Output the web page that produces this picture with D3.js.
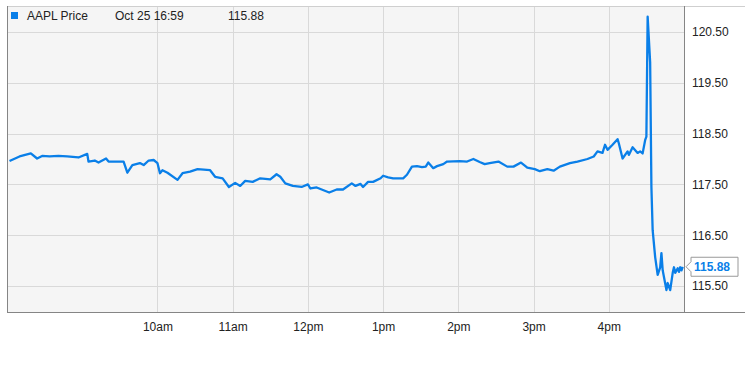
<!DOCTYPE html>
<html>
<head>
<meta charset="utf-8">
<script src="https://cdn.jsdelivr.net/npm/d3@7"></script>
<style>
  body { margin: 0; background: #fff; }
  svg { font-family: "Liberation Sans", Arial, Helvetica, sans-serif; }
</style>
</head>
<body>
<div id="chart"></div>
<script>
const symbol = "AAPL Price";
const lastLabel = "Oct 25 16:59";
const lastPrice = 115.88;

const times = [
  "08:02","08:10","08:19","08:24","08:28","08:34","08:41","08:48","08:57","09:04",
  "09:05","09:10","09:13","09:19","09:21","09:33","09:36","09:40","09:46","09:49",
  "09:53","09:57","10:00","10:02","10:04","10:08","10:16","10:20","10:26","10:32",
  "10:42","10:46","10:52","10:57","11:02","11:06","11:10","11:16","11:22","11:30",
  "11:35","11:38","11:42","11:48","11:55","12:00","12:02","12:07","12:12","12:17",
  "12:23","12:28","12:35","12:38","12:42","12:44","12:48","12:52","12:58","13:00",
  "13:04","13:08","13:16","13:19","13:23","13:27","13:31","13:34","13:36","13:40",
  "13:43","13:48","13:51","14:01","14:07","14:12","14:17","14:21","14:25","14:32",
  "14:39","14:44","14:50","14:55","15:01","15:05","15:11","15:16","15:21","15:29",
  "15:35","15:43","15:48","15:51","15:55","15:57","15:59","16:03","16:07","16:08",
  "16:11","16:15","16:16","16:19","16:23","16:25","16:27","16:29","16:30","16:31",
  "16:33","16:34","16:35","16:37","16:39","16:41","16:42","16:43","16:46","16:47",
  "16:49","16:51","16:52","16:53","16:55","16:56","16:57","16:58","16:59"
];
const prices = [
  117.96,118.05,118.11,118.01,118.06,118.05,118.06,118.05,118.03,118.10,
  117.95,117.97,117.93,118.01,117.95,117.95,117.73,117.88,117.92,117.88,
  117.97,117.98,117.92,117.72,117.78,117.73,117.59,117.72,117.75,117.80,
  117.78,117.65,117.62,117.45,117.53,117.47,117.57,117.55,117.62,117.60,
  117.70,117.65,117.52,117.47,117.45,117.50,117.42,117.44,117.39,117.34,
  117.40,117.40,117.52,117.47,117.51,117.45,117.55,117.55,117.62,117.67,
  117.64,117.62,117.62,117.69,117.85,117.86,117.84,117.85,117.93,117.82,
  117.86,117.90,117.95,117.96,117.95,118.00,117.94,117.90,117.92,117.95,
  117.85,117.85,117.93,117.83,117.80,117.76,117.80,117.77,117.85,117.92,
  117.95,118.00,118.05,118.15,118.12,118.28,118.18,118.28,118.39,118.31,
  118.01,118.15,118.08,118.23,118.12,118.15,118.11,118.37,118.44,120.80,
  119.90,117.45,116.60,116.07,115.72,115.87,116.15,115.81,115.42,115.56,
  115.42,115.76,115.87,115.76,115.85,115.78,115.87,115.81,115.88
];
const hourTicks = ["10:00","11:00","12:00","13:00","14:00","15:00","16:00"];
const priceTicks = [115.5, 116.5, 117.5, 118.5, 119.5, 120.5];

const parse = d3.timeParse("%H:%M");
const data = times.map((t, i) => ({ t: parse(t), v: prices[i] }));

const width = 745, height = 365;
const plot = { left: 7, right: 684, top: 6, bottom: 312 };
const blue = "#0a7fe8";

const svg = d3.select("#chart").append("svg")
  .attr("width", width)
  .attr("height", height);

const x = d3.scaleTime()
  .domain([parse("08:00"), parse("17:00")])
  .range([plot.left, plot.right]);

const y = d3.scaleLinear()
  .domain([114.99, 121.01])
  .range([plot.bottom, plot.top]);

// background
svg.append("rect")
  .attr("x", plot.left)
  .attr("y", plot.top)
  .attr("width", plot.right - plot.left)
  .attr("height", plot.bottom - plot.top)
  .attr("fill", "#f5f5f5");

// grid
svg.append("g")
  .selectAll("line")
  .data(priceTicks)
  .join("line")
  .attr("x1", plot.left)
  .attr("x2", plot.right)
  .attr("y1", (d) => Math.round(y(d)) + 0.5)
  .attr("y2", (d) => Math.round(y(d)) + 0.5)
  .attr("stroke", "#d9d9d9");

svg.append("g")
  .selectAll("line")
  .data(hourTicks.map(parse))
  .join("line")
  .attr("x1", (d) => Math.round(x(d)) + 0.5)
  .attr("x2", (d) => Math.round(x(d)) + 0.5)
  .attr("y1", plot.top)
  .attr("y2", plot.bottom)
  .attr("stroke", "#d9d9d9");

// frame
svg.append("line")
  .attr("x1", plot.left).attr("x2", width)
  .attr("y1", plot.top + 0.5).attr("y2", plot.top + 0.5)
  .attr("stroke", "#cfcfcf");
svg.append("line")
  .attr("x1", plot.left).attr("x2", width)
  .attr("y1", plot.bottom + 0.5).attr("y2", plot.bottom + 0.5)
  .attr("stroke", "#858585");
svg.append("line")
  .attr("x1", plot.left + 0.5).attr("x2", plot.left + 0.5)
  .attr("y1", plot.top).attr("y2", plot.bottom)
  .attr("stroke", "#858585");
svg.append("line")
  .attr("x1", plot.right + 0.5).attr("x2", plot.right + 0.5)
  .attr("y1", plot.top).attr("y2", plot.bottom)
  .attr("stroke", "#858585");

// axes
const fmtHour = (d) => d3.timeFormat("%-I%p")(d).toLowerCase();
const xAxis = svg.append("g")
  .attr("transform", `translate(0,${plot.bottom})`)
  .call(d3.axisBottom(x).tickValues(hourTicks.map(parse)).tickFormat(fmtHour).tickSize(0).tickPadding(10));
xAxis.select(".domain").remove();
xAxis.selectAll("text")
  .attr("font-size", 12)
  .attr("font-family", "Liberation Sans, Arial, sans-serif")
  .attr("fill", "#222");

const yAxis = svg.append("g")
  .attr("transform", `translate(${plot.right},0)`)
  .call(d3.axisRight(y).tickValues(priceTicks).tickFormat(d3.format(".2f")).tickSize(0).tickPadding(8));
yAxis.select(".domain").remove();
yAxis.selectAll("text")
  .attr("font-size", 12)
  .attr("font-family", "Liberation Sans, Arial, sans-serif")
  .attr("fill", "#222");

// price line
svg.append("path")
  .datum(data)
  .attr("fill", "none")
  .attr("stroke", blue)
  .attr("stroke-width", 2.3)
  .attr("stroke-linejoin", "round")
  .attr("d", d3.line().x((d) => x(d.t)).y((d) => y(d.v)));

// last value marker
const ly = y(lastPrice);
const tag = svg.append("g").attr("transform", `translate(${plot.right + 2},${ly})`);
tag.append("path")
  .attr("d", "M0,0 L5,-5 L5,-9.5 L52,-9.5 L52,9.5 L5,9.5 L5,5 Z")
  .attr("fill", "#fff")
  .attr("stroke", "#999");
tag.append("text")
  .attr("x", 8)
  .attr("y", 4.5)
  .attr("font-size", 12)
  .attr("font-weight", "bold")
  .attr("fill", blue)
  .text(d3.format(".2f")(lastPrice));

// legend
const legend = svg.append("g");
legend.append("rect")
  .attr("x", 11).attr("y", 12)
  .attr("width", 7).attr("height", 7)
  .attr("fill", blue);
legend.append("text")
  .attr("x", 27).attr("y", 20)
  .attr("font-size", 12).attr("fill", "#222")
  .text(symbol);
legend.append("text")
  .attr("x", 115).attr("y", 20)
  .attr("font-size", 12).attr("fill", "#222")
  .text(lastLabel);
legend.append("text")
  .attr("x", 228).attr("y", 20)
  .attr("font-size", 12).attr("fill", "#222")
  .text(d3.format(".2f")(lastPrice));
</script>
</body>
</html>
